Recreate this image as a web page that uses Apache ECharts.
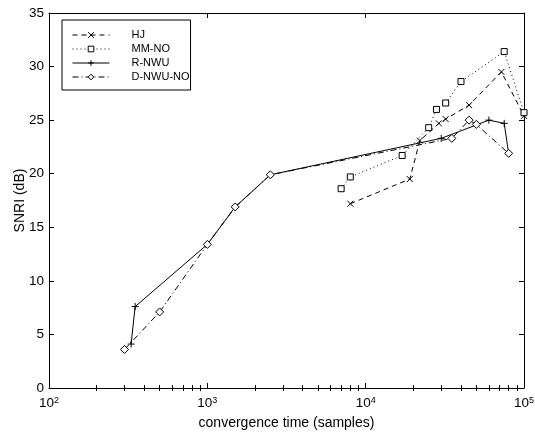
<!DOCTYPE html>
<html>
<head>
<meta charset="utf-8">
<script src="https://cdn.jsdelivr.net/npm/echarts@6/dist/echarts.min.js"></script>
<style>
html,body{margin:0;padding:0;background:#fff;}
#chart{width:535px;height:436px;}
</style>
</head>
<body>
<div id="chart"></div>
<script>
// ---- data ----
var seriesNames = ['HJ', 'MM-NO', 'R-NWU', 'D-NWU-NO'];

var hjX = [8000, 19000, 22000, 29000, 32000, 45000, 72000, 100000];
var hjY = [17.2, 19.5, 23.1, 24.7, 25.1, 26.4, 29.5, 25.4];

var mmX = [7000, 8000, 17000, 25000, 28000, 32000, 40000, 75000, 100000];
var mmY = [18.6, 19.7, 21.7, 24.3, 26.0, 26.6, 28.6, 31.4, 25.7];

var rX = [330, 350, 1000, 1500, 2500, 30000, 60000, 75000, 80000];
var rY = [4.1, 7.6, 13.4, 16.9, 19.9, 23.3, 25.0, 24.7, 21.9];

var dX = [300, 500, 1000, 1500, 2500, 35000, 45000, 50000, 80000];
var dY = [3.6, 7.1, 13.4, 16.9, 19.9, 23.3, 25.0, 24.6, 21.9];

var xMajorTicks = [100, 1000, 10000, 100000];
var xMinorTicks = [200, 300, 400, 500, 600, 700, 800, 900,
                   2000, 3000, 4000, 5000, 6000, 7000, 8000, 9000,
                   20000, 30000, 40000, 50000, 60000, 70000, 80000, 90000];

function pairs(xs, ys) { return xs.map(function (x, i) { return [x, ys[i]]; }); }

var FONT = '"Liberation Sans", Arial, Helvetica, sans-serif';
var BLACK = '#000';

var chart = echarts.init(document.getElementById('chart'), null, {renderer: 'canvas'});

function xAxisBase(pos) {
  return {
    type: 'log', logBase: 10, min: 100, max: 100000, position: pos,
    splitLine: {show: false}, minorTick: {show: false}, minorSplitLine: {show: false},
    axisLine: {show: false}, axisLabel: {show: false}, axisTick: {show: false}
  };
}

var xBottom = xAxisBase('bottom');
xBottom.axisLine = {show: true, onZero: false, lineStyle: {color: BLACK, width: 1}};
xBottom.axisTick = {show: true, inside: true, length: 5, lineStyle: {color: BLACK}, customValues: xMajorTicks};
xBottom.axisLabel = {
  show: true, margin: 8, customValues: xMajorTicks, hideOverlap: false,
  formatter: function (v) { return '{b|10}{s|' + Math.round(Math.log10(v)) + '}'; },
  rich: {
    b: {fontFamily: FONT, fontSize: 13.5, color: BLACK, verticalAlign: 'bottom'},
    s: {fontFamily: FONT, fontSize: 9, color: BLACK, verticalAlign: 'top'}
  }
};
xBottom.name = 'convergence time (samples)';
xBottom.nameLocation = 'middle';
xBottom.nameGap = 28;
xBottom.nameMoveOverlap = false;
xBottom.nameTextStyle = {fontFamily: FONT, fontSize: 14, color: BLACK};

var xBottomMinor = xAxisBase('bottom');
xBottomMinor.axisTick = {show: true, inside: true, length: 3, lineStyle: {color: BLACK}, customValues: xMinorTicks};

var xTop = xAxisBase('top');
xTop.axisLine = {show: true, onZero: false, lineStyle: {color: BLACK, width: 1}};
xTop.axisTick = {show: true, inside: true, length: 5, lineStyle: {color: BLACK}, customValues: xMajorTicks};

var xTopMinor = xAxisBase('top');
xTopMinor.axisTick = {show: true, inside: true, length: 3, lineStyle: {color: BLACK}, customValues: xMinorTicks};

function yAxisBase(pos) {
  return {
    type: 'value', min: 0, max: 35, interval: 5, position: pos,
    splitLine: {show: false},
    axisLine: {show: true, onZero: false, lineStyle: {color: BLACK, width: 1}},
    axisTick: {show: true, inside: true, length: 5, lineStyle: {color: BLACK}},
    axisLabel: {show: false}
  };
}
var yLeft = yAxisBase('left');
yLeft.axisLabel = {show: true, margin: 5, fontFamily: FONT, fontSize: 13.5, color: BLACK};
yLeft.name = 'SNRI (dB)';
yLeft.nameLocation = 'middle';
yLeft.nameGap = 22;
yLeft.nameMoveOverlap = false;
yLeft.nameTextStyle = {fontFamily: FONT, fontSize: 14, color: BLACK};
var yRight = yAxisBase('right');

var symX = 'path://M0,0L10,10M10,0L0,10';
var symPlus = 'path://M5,0L5,10M0,5L10,5';

function lineSeries(name, data, lineType, symbol, size) {
  return {
    name: name, type: 'line', xAxisIndex: 0, yAxisIndex: 0,
    data: data, symbol: symbol, symbolSize: size, showSymbol: true,
    animation: false,
    lineStyle: {color: BLACK, width: 1, type: lineType},
    itemStyle: {color: '#fff', borderColor: BLACK, borderWidth: 1},
    emphasis: {disabled: true}
  };
}

var option = {
  animation: false,
  backgroundColor: '#fff',
  grid: {left: 49, right: 11, top: 13, bottom: 48, containLabel: false, outerBoundsMode: 'none'},
  xAxis: [xBottom, xBottomMinor, xTop, xTopMinor],
  yAxis: [yLeft, yRight],
  legend: {
    orient: 'vertical', left: 62, top: 20,
    padding: [9, 1, 7, 10],
    borderColor: BLACK, borderWidth: 1, backgroundColor: '#fff',
    itemWidth: 37, itemHeight: 7, itemGap: 2,
    lineStyle: {width: 1},
    itemStyle: {borderWidth: 1},
    textStyle: {fontFamily: FONT, fontSize: 11, color: BLACK, lineHeight: 12, padding: [0, 0, 0, 17]},
    data: seriesNames,
    selectedMode: false
  },
  series: [
    lineSeries(seriesNames[0], pairs(hjX, hjY), [5, 4], symX, 6),
    lineSeries(seriesNames[1], pairs(mmX, mmY), [1, 3], 'rect', 6),
    lineSeries(seriesNames[2], pairs(rX, rY), 'solid', symPlus, 7),
    lineSeries(seriesNames[3], pairs(dX, dY), [6, 3, 1, 3], 'diamond', 8)
  ]
};
chart.setOption(option);
</script>
</body>
</html>
